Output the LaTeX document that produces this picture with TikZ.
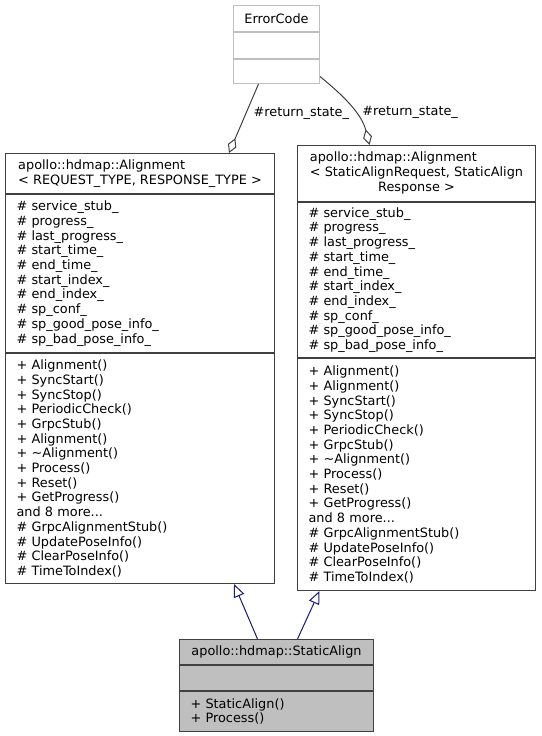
\documentclass[tikz,border=0pt]{standalone}
\usepackage{fontspec}
\setmainfont{DejaVu Sans}
\usetikzlibrary{positioning,arrows.meta}

\definecolor{umlline}{HTML}{404040}
\definecolor{umlgrey}{HTML}{BFBFBF}
\definecolor{umlblue}{HTML}{191970}

\begin{document}
\begin{tikzpicture}[x=1pt,y=-1pt,
		font=\fontsize{12.85}{14.7}\selectfont,
		every node/.style={line width=1pt,inner xsep=11pt,inner ysep=0pt},
		classpart/.style={draw=umlline,fill=white},
		greypart/.style={draw=umlline,fill=umlgrey,minimum width=194pt},
		extpart/.style={draw=umlgrey,fill=white,minimum width=86pt,inner xsep=8pt},
		leftpart/.style={classpart,minimum width=269pt},
		rightpart/.style={classpart,minimum width=238pt},
		leftlist/.style={leftpart,text width=247pt,align=left},
		rightlist/.style={rightpart,text width=216pt,align=left},
		aggr/.style={draw=umlline,line width=1pt,-{Diamond[open,length=16pt,width=9pt]}},
		inherit/.style={draw=umlblue,line width=1pt,-{Triangle[open,length=13pt,width=11pt]}},
		role/.style={inner xsep=2pt}]

		\useasboundingbox (0,0) rectangle (541,736);

		% ErrorCode
		\node[extpart,anchor=north west,minimum height=26pt] (ec1) at (233,5) {ErrorCode};
		\node[extpart,below=0pt of ec1,minimum height=26pt] (ec2) {};
		\node[extpart,below=0pt of ec2,minimum height=24pt] (ec3) {};

		% Alignment< REQUEST_TYPE, RESPONSE_TYPE >
		\node[leftpart,align=left,anchor=north west,minimum height=40pt] (lt) at (5,153)
			{apollo::hdmap::Alignment\\< REQUEST\_TYPE, RESPONSE\_TYPE >};
		\node[leftlist,below=0pt of lt,minimum height=158pt] (la)
			{\# service\_stub\_\\\# progress\_\\\# last\_progress\_\\\# start\_time\_\\\# end\_time\_\\
			 \# start\_index\_\\\# end\_index\_\\\# sp\_conf\_\\\# sp\_good\_pose\_info\_\\\# sp\_bad\_pose\_info\_};
		\node[leftlist,below=0pt of la,minimum height=230pt] (lm)
			{+ Alignment()\\+ SyncStart()\\+ SyncStop()\\+ PeriodicCheck()\\+ GrpcStub()\\+ Alignment()\\
			 + \textasciitilde Alignment()\\+ Process()\\+ Reset()\\+ GetProgress()\\and 8 more...\\
			 \# GrpcAlignmentStub()\\\# UpdatePoseInfo()\\\# ClearPoseInfo()\\\# TimeToIndex()};

		% Alignment< StaticAlignRequest, StaticAlignResponse >
		\node[rightpart,anchor=north west,minimum height=56pt] (rt) at (297,145)
			{\begin{tabular}{@{}l@{}}apollo::hdmap::Alignment\\< StaticAlignRequest, StaticAlign\\
			 \multicolumn{1}{@{}c@{}}{Response >}\end{tabular}};
		\node[rightlist,below=0pt of rt,minimum height=155pt] (ra)
			{\# service\_stub\_\\\# progress\_\\\# last\_progress\_\\\# start\_time\_\\\# end\_time\_\\
			 \# start\_index\_\\\# end\_index\_\\\# sp\_conf\_\\\# sp\_good\_pose\_info\_\\\# sp\_bad\_pose\_info\_};
		\node[rightlist,below=0pt of ra,minimum height=232pt] (rm)
			{+ Alignment()\\+ Alignment()\\+ SyncStart()\\+ SyncStop()\\+ PeriodicCheck()\\+ GrpcStub()\\
			 + \textasciitilde Alignment()\\+ Process()\\+ Reset()\\+ GetProgress()\\and 8 more...\\
			 \# GrpcAlignmentStub()\\\# UpdatePoseInfo()\\\# ClearPoseInfo()\\\# TimeToIndex()};

		% StaticAlign
		\node[greypart,anchor=north west,minimum height=25pt] (sa1) at (179,639) {apollo::hdmap::StaticAlign};
		\node[greypart,below=0pt of sa1,minimum height=25pt] (sa2) {};
		\node[greypart,below=0pt of sa2,text width=172pt,align=left,minimum height=40pt] (sa3)
			{+ StaticAlign()\\+ Process()};

		\draw[aggr] ([xshift=-18pt]ec3.south) -- node[role,pos=0.42,right=5pt] {\#return\_state\_} ([xshift=89pt]lt.north);
		\draw[aggr] ([yshift=-5pt]ec3.east) .. controls +(22,18) and +(-8,-32) ..
			node[role,pos=0.6,right=5pt] {\#return\_state\_} ([xshift=-47pt]rt.north);

		\draw[inherit] ([xshift=-19pt]sa1.north) -- ([xshift=94pt]lm.south);
		\draw[inherit] ([xshift=21pt]sa1.north) -- ([xshift=-97pt]rm.south);

	\end{tikzpicture}
\end{document}
